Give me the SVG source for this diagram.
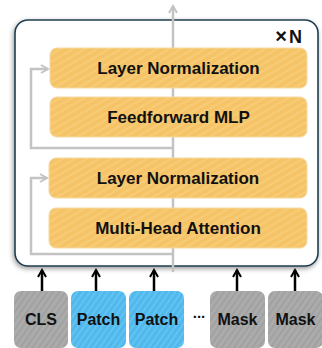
<svg xmlns="http://www.w3.org/2000/svg" width="322" height="348" viewBox="0 0 322 348">
<style>
.lbl{font-family:"Liberation Sans",Arial,sans-serif;font-weight:bold;fill:#111;text-anchor:middle}
.blk{fill:url(#hOr);stroke:#f3d9a0;stroke-width:1}
.gry{fill:url(#hGr)}
.blu{fill:url(#hBl)}
.res{fill:none;stroke:#c3c3c3;stroke-width:2.5}
.inp{stroke:#000;stroke-width:2.5;fill:none}
</style>
<defs>
<pattern id="hOr" width="6" height="6" patternUnits="userSpaceOnUse" patternTransform="rotate(-30)">
<rect width="6" height="6" fill="#f6c466"/><line x1="0" y1="1" x2="6" y2="1" stroke="#f9d58a" stroke-width="1"/>
</pattern>
<pattern id="hGr" width="5" height="5" patternUnits="userSpaceOnUse" patternTransform="rotate(-55)">
<rect width="5" height="5" fill="#ababab"/><line x1="0" y1="1" x2="5" y2="1" stroke="#979797" stroke-width="1"/>
</pattern>
<pattern id="hBl" width="5" height="5" patternUnits="userSpaceOnUse" patternTransform="rotate(-55)">
<rect width="5" height="5" fill="#4fb9ee"/><line x1="0" y1="1" x2="5" y2="1" stroke="#78cbf4" stroke-width="1"/>
</pattern>
<marker id="ga" viewBox="0 0 10 10" refX="8" refY="5" markerWidth="4" markerHeight="4" orient="auto" markerUnits="strokeWidth">
<path d="M1,1 L8,5 L1,9" fill="none" stroke="#c3c3c3" stroke-width="2"/>
</marker>
<marker id="ba" viewBox="0 0 10 10" refX="8" refY="5" markerWidth="4" markerHeight="4" orient="auto" markerUnits="strokeWidth">
<path d="M1,1 L8,5 L1,9" fill="none" stroke="#000" stroke-width="2"/>
</marker>
<filter id="sh" x="-10%" y="-10%" width="120%" height="120%">
<feDropShadow dx="-1" dy="2" stdDeviation="2.5" flood-color="#000" flood-opacity="0.4"/>
</filter>
</defs>

<g id="block">
<rect x="15" y="20" width="303" height="246" rx="13" fill="#fff" stroke="#1f3e50" stroke-width="1.6" filter="url(#sh)"/>
<text class="lbl" x="302" y="43" style="text-anchor:end"><tspan font-size="20">×</tspan><tspan font-size="18" dx="2">N</tspan></text>
</g>

<g id="connectors">
<line class="res" x1="173" y1="272" x2="173" y2="6" marker-end="url(#ga)"/>
<path class="res" d="M173,148 H31 V69 H48" marker-end="url(#ga)"/>
<path class="res" d="M173,254 H31 V178 H47" marker-end="url(#ga)"/>
<line class="inp" x1="42" y1="291" x2="42" y2="270" marker-end="url(#ba)"/>
<line class="inp" x1="96" y1="291" x2="96" y2="270" marker-end="url(#ba)"/>
<line class="inp" x1="154" y1="291" x2="154" y2="270" marker-end="url(#ba)"/>
<line class="inp" x1="237" y1="291" x2="237" y2="270" marker-end="url(#ba)"/>
<line class="inp" x1="295" y1="291" x2="295" y2="270" marker-end="url(#ba)"/>
</g>

<g id="ln1"><rect class="blk" x="50" y="48" width="257" height="40" rx="7"/><text class="lbl" x="178.5" y="74" font-size="17">Layer Normalization</text></g>
<g id="mlp"><rect class="blk" x="50" y="97" width="257" height="40" rx="7"/><text class="lbl" x="178.5" y="123" font-size="17">Feedforward MLP</text></g>
<g id="ln2"><rect class="blk" x="49" y="158" width="258" height="40" rx="7"/><text class="lbl" x="178" y="184" font-size="17">Layer Normalization</text></g>
<g id="mha"><rect class="blk" x="49" y="208" width="258" height="40" rx="7"/><text class="lbl" x="178" y="234" font-size="17">Multi-Head Attention</text></g>

<g id="cls"><rect class="gry" x="14" y="291" width="54" height="57" rx="7"/><text class="lbl" x="41" y="325" font-size="16">CLS</text></g>
<g id="patch1"><rect class="blu" x="71" y="291" width="55" height="57" rx="7"/><text class="lbl" x="98.5" y="325" font-size="16">Patch</text></g>
<g id="patch2"><rect class="blu" x="129" y="291" width="55" height="57" rx="7"/><text class="lbl" x="156.5" y="325" font-size="16">Patch</text></g>
<g id="dots"><text class="lbl" x="199" y="318" font-size="15">...</text></g>
<g id="mask1"><rect class="gry" x="210" y="291" width="55" height="57" rx="7"/><text class="lbl" x="237.5" y="325" font-size="16">Mask</text></g>
<g id="mask2"><rect class="gry" x="268" y="291" width="55" height="57" rx="7"/><text class="lbl" x="295.5" y="325" font-size="16">Mask</text></g>
</svg>
